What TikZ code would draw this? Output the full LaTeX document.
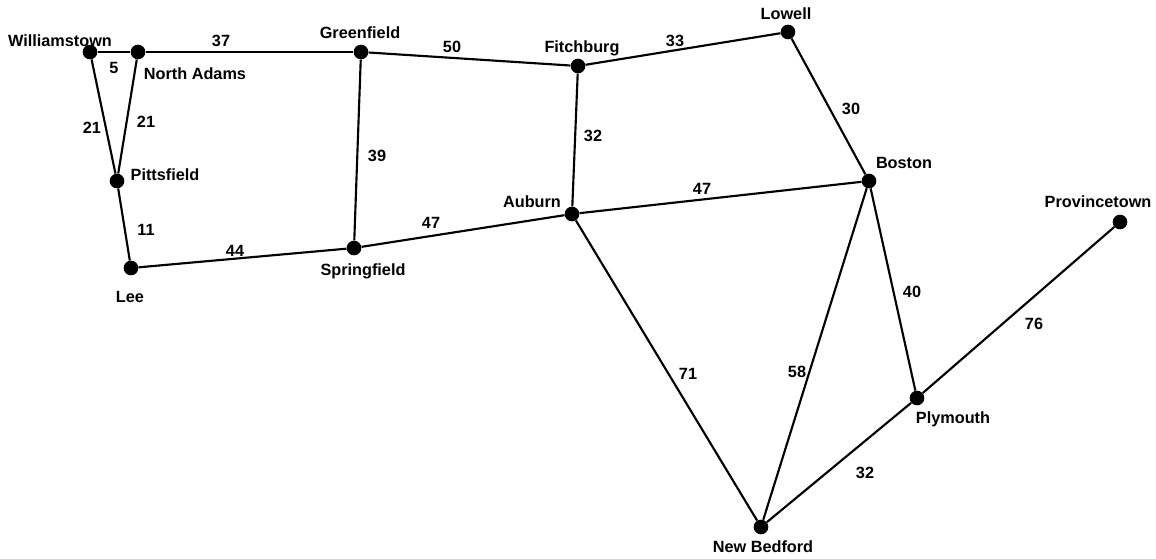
\documentclass[tikz,border=0pt]{standalone}
\usepackage{fontspec}
\setmainfont{Liberation Sans}
\begin{document}
\begin{tikzpicture}[x=0.75pt,y=-0.75pt,
  dot/.style={circle,fill=black,draw=none,minimum size=11pt,inner sep=0pt},
  city/.style={font=\fontsize{12.2}{14}\selectfont\bfseries,inner sep=0pt,text height=8.7pt,text depth=0pt,anchor=center},
  dist/.style={font=\fontsize{12.2}{14}\selectfont\bfseries,inner sep=0pt,text height=8.7pt,text depth=0pt,anchor=center},
  road/.style={line width=1.6pt}]
\useasboundingbox (0,0) rectangle (1156,558);
% towns
\node[dot] (W) at (90,52) {};
\node[dot] (NA) at (138,52) {};
\node[dot] (G) at (361,52) {};
\node[dot] (F) at (578,66) {};
\node[dot] (Lo) at (788,32) {};
\node[dot] (P) at (117,181) {};
\node[dot] (Lee) at (131,268) {};
\node[dot] (S) at (354,248) {};
\node[dot] (A) at (572,214) {};
\node[dot] (B) at (869,181) {};
\node[dot] (Prov) at (1120,222) {};
\node[dot] (Ply) at (917,398) {};
\node[dot] (NB) at (761,527) {};
% roads
\draw[road] (W) -- (NA);
\draw[road] (NA) -- (G);
\draw[road] (W) -- (P);
\draw[road] (NA) -- (P);
\draw[road] (P) -- (Lee);
\draw[road] (Lee) -- (S);
\draw[road] (G) -- (S);
\draw[road] (S) -- (A);
\draw[road] (G) -- (F);
\draw[road] (F) -- (A);
\draw[road] (F) -- (Lo);
\draw[road] (Lo) -- (B);
\draw[road] (A) -- (B);
\draw[road] (A) -- (NB);
\draw[road] (B) -- (NB);
\draw[road] (B) -- (Ply);
\draw[road] (Ply) -- (Prov);
\draw[road] (NB) -- (Ply);
% town names
\node[city] (tW) at (60,41) {Williamstown};
\node[city] (tNA) at (195,74) {North Adams};
\node[city] (tG) at (360,33) {Greenfield};
\node[city] (tF) at (582,47) {Fitchburg};
\node[city] (tLo) at (786,14) {Lowell};
\node[city] (tP) at (165,175) {Pittsfield};
\node[city] (tLee) at (130,297) {Lee};
\node[city] (tS) at (363,270) {Springfield};
\node[city] (tA) at (532,202) {Auburn};
\node[city] (tB) at (904,163) {Boston};
\node[city] (tProv) at (1098,202) {Provincetown};
\node[city] (tPly) at (953,418) {Plymouth};
\node[city] (tNB) at (763,547) {New Bedford};
% distances
\node[dist] (d1) at (221,41) {37};
\node[dist] (d2) at (114,68) {5};
\node[dist] (d3) at (92,128) {21};
\node[dist] (d4) at (146,122) {21};
\node[dist] (d5) at (146,230) {11};
\node[dist] (d6) at (235,251) {44};
\node[dist] (d7) at (377,156) {39};
\node[dist] (d8) at (431,223) {47};
\node[dist] (d9) at (452,47) {50};
\node[dist] (d10) at (593,136) {32};
\node[dist] (d11) at (675,41) {33};
\node[dist] (d12) at (851,109) {30};
\node[dist] (d13) at (702,189) {47};
\node[dist] (d14) at (912,292) {40};
\node[dist] (d15) at (1034,324) {76};
\node[dist] (d16) at (688,374) {71};
\node[dist] (d17) at (797,372) {58};
\node[dist] (d18) at (865,473) {32};
\end{tikzpicture}
\end{document}
